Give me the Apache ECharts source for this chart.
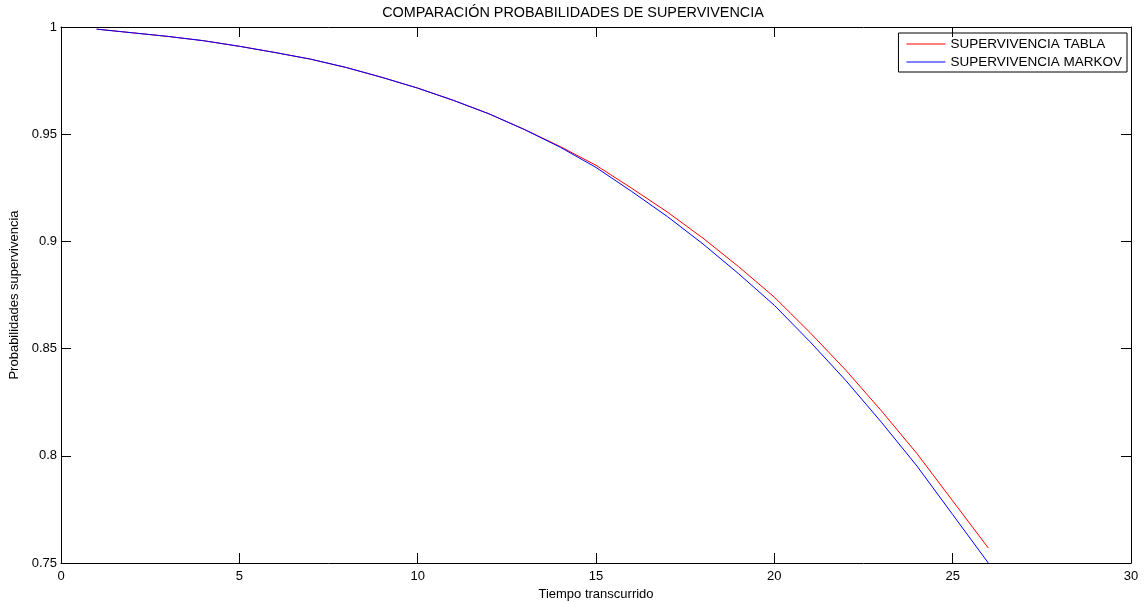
<!DOCTYPE html>
<html>
<head>
<meta charset="utf-8">
<script src="https://cdn.jsdelivr.net/npm/echarts@6/dist/echarts.min.js"></script>
<style>
  html, body { margin: 0; padding: 0; background: #fff; }
  #chart { width: 1146px; height: 602px; }
</style>
</head>
<body>
<div id="chart"></div>
<script>
// tiempo transcurrido
var tiempo = [1, 2, 3, 4, 5, 6, 7, 8, 9, 10, 11, 12, 13, 14, 15, 16, 17, 18, 19, 20, 21, 22, 23, 24, 25, 26];

// supervivencia segun tabla
var supTabla = [0.9990, 0.9973, 0.9956, 0.9936, 0.9910, 0.9881, 0.9850, 0.9811, 0.9765, 0.9715,
                0.9658, 0.9595, 0.9522, 0.9442, 0.9355, 0.9248, 0.9137, 0.9015, 0.8882, 0.8740,
                0.8575, 0.8400, 0.8210, 0.8010, 0.7790, 0.7570];

// supervivencia segun markov
var supMarkov = [0.9990, 0.9973, 0.9956, 0.9936, 0.9910, 0.9881, 0.9850, 0.9811, 0.9765, 0.9715,
                 0.9658, 0.9595, 0.9521, 0.9439, 0.9345, 0.9233, 0.9116, 0.8988, 0.8849, 0.8702,
                 0.8532, 0.8352, 0.8157, 0.7952, 0.7726, 0.7500];

var font = 'Liberation Sans, Arial, sans-serif';

function pares(xs, ys) {
    var out = [];
    for (var i = 0; i < xs.length; i++) out.push([xs[i], ys[i]]);
    return out;
}

var chart = echarts.init(document.getElementById('chart'));

var lineaEje = { show: true, onZero: false, lineStyle: { color: '#000', width: 1 } };
var ticks = { show: true, inside: true, length: 10, lineStyle: { color: '#000', width: 1 } };

chart.setOption({
    animation: false,
    backgroundColor: '#fff',
    textStyle: { fontFamily: font },
    title: {
        text: 'COMPARACIÓN PROBABILIDADES DE SUPERVIVENCIA',
        left: 'center',
        top: 1,
        textStyle: { fontSize: 14.4, fontWeight: 'normal', color: '#000', fontFamily: font }
    },
    legend: {
        orient: 'vertical',
        right: 19,
        top: 33,
        padding: [4, 5, 3, 8],
        itemGap: 4,
        itemWidth: 39,
        itemHeight: 1,
        borderColor: '#000',
        borderWidth: 1,
        borderRadius: 0,
        icon: 'rect',
        textStyle: { fontSize: 13.5, lineHeight: 14, color: '#000', fontFamily: font },
        data: ['SUPERVIVENCIA TABLA', 'SUPERVIVENCIA MARKOV']
    },
    grid: { left: 61, right: 15, top: 27, bottom: 39, containLabel: false, outerBoundsMode: 'none' },
    xAxis: [{
        type: 'value',
        min: 0, max: 30, interval: 5,
        name: 'Tiempo transcurrido',
        nameLocation: 'middle',
        nameGap: 20,
        nameTextStyle: { fontSize: 13, color: '#000' },
        axisLine: lineaEje,
        axisTick: ticks,
        axisLabel: { fontSize: 13, color: '#000', margin: 7 },
        splitLine: { show: false }
    }, {
        type: 'value',
        position: 'top',
        min: 0, max: 30, interval: 5,
        axisLine: lineaEje,
        axisTick: ticks,
        axisLabel: { show: false },
        splitLine: { show: false }
    }],
    yAxis: [{
        type: 'value',
        position: 'left',
        min: 0.75, max: 1, interval: 0.05,
        name: 'Probabilidades supervivencia',
        nameLocation: 'middle',
        nameGap: 36,
        nameTextStyle: { fontSize: 13, color: '#000' },
        axisLine: lineaEje,
        axisTick: ticks,
        axisLabel: { fontSize: 13, color: '#000', margin: 4 },
        splitLine: { show: false }
    }, {
        type: 'value',
        position: 'right',
        min: 0.75, max: 1, interval: 0.05,
        axisLine: lineaEje,
        axisTick: ticks,
        axisLabel: { show: false },
        splitLine: { show: false }
    }],
    series: [{
        name: 'SUPERVIVENCIA TABLA',
        type: 'line',
        data: pares(tiempo, supTabla),
        showSymbol: false,
        symbol: 'none',
        color: '#ff0000',
        lineStyle: { color: '#ff0000', width: 1 }
    }, {
        name: 'SUPERVIVENCIA MARKOV',
        type: 'line',
        data: pares(tiempo, supMarkov),
        showSymbol: false,
        symbol: 'none',
        color: '#0000ff',
        lineStyle: { color: '#0000ff', width: 1 }
    }]
});
</script>
</body>
</html>
